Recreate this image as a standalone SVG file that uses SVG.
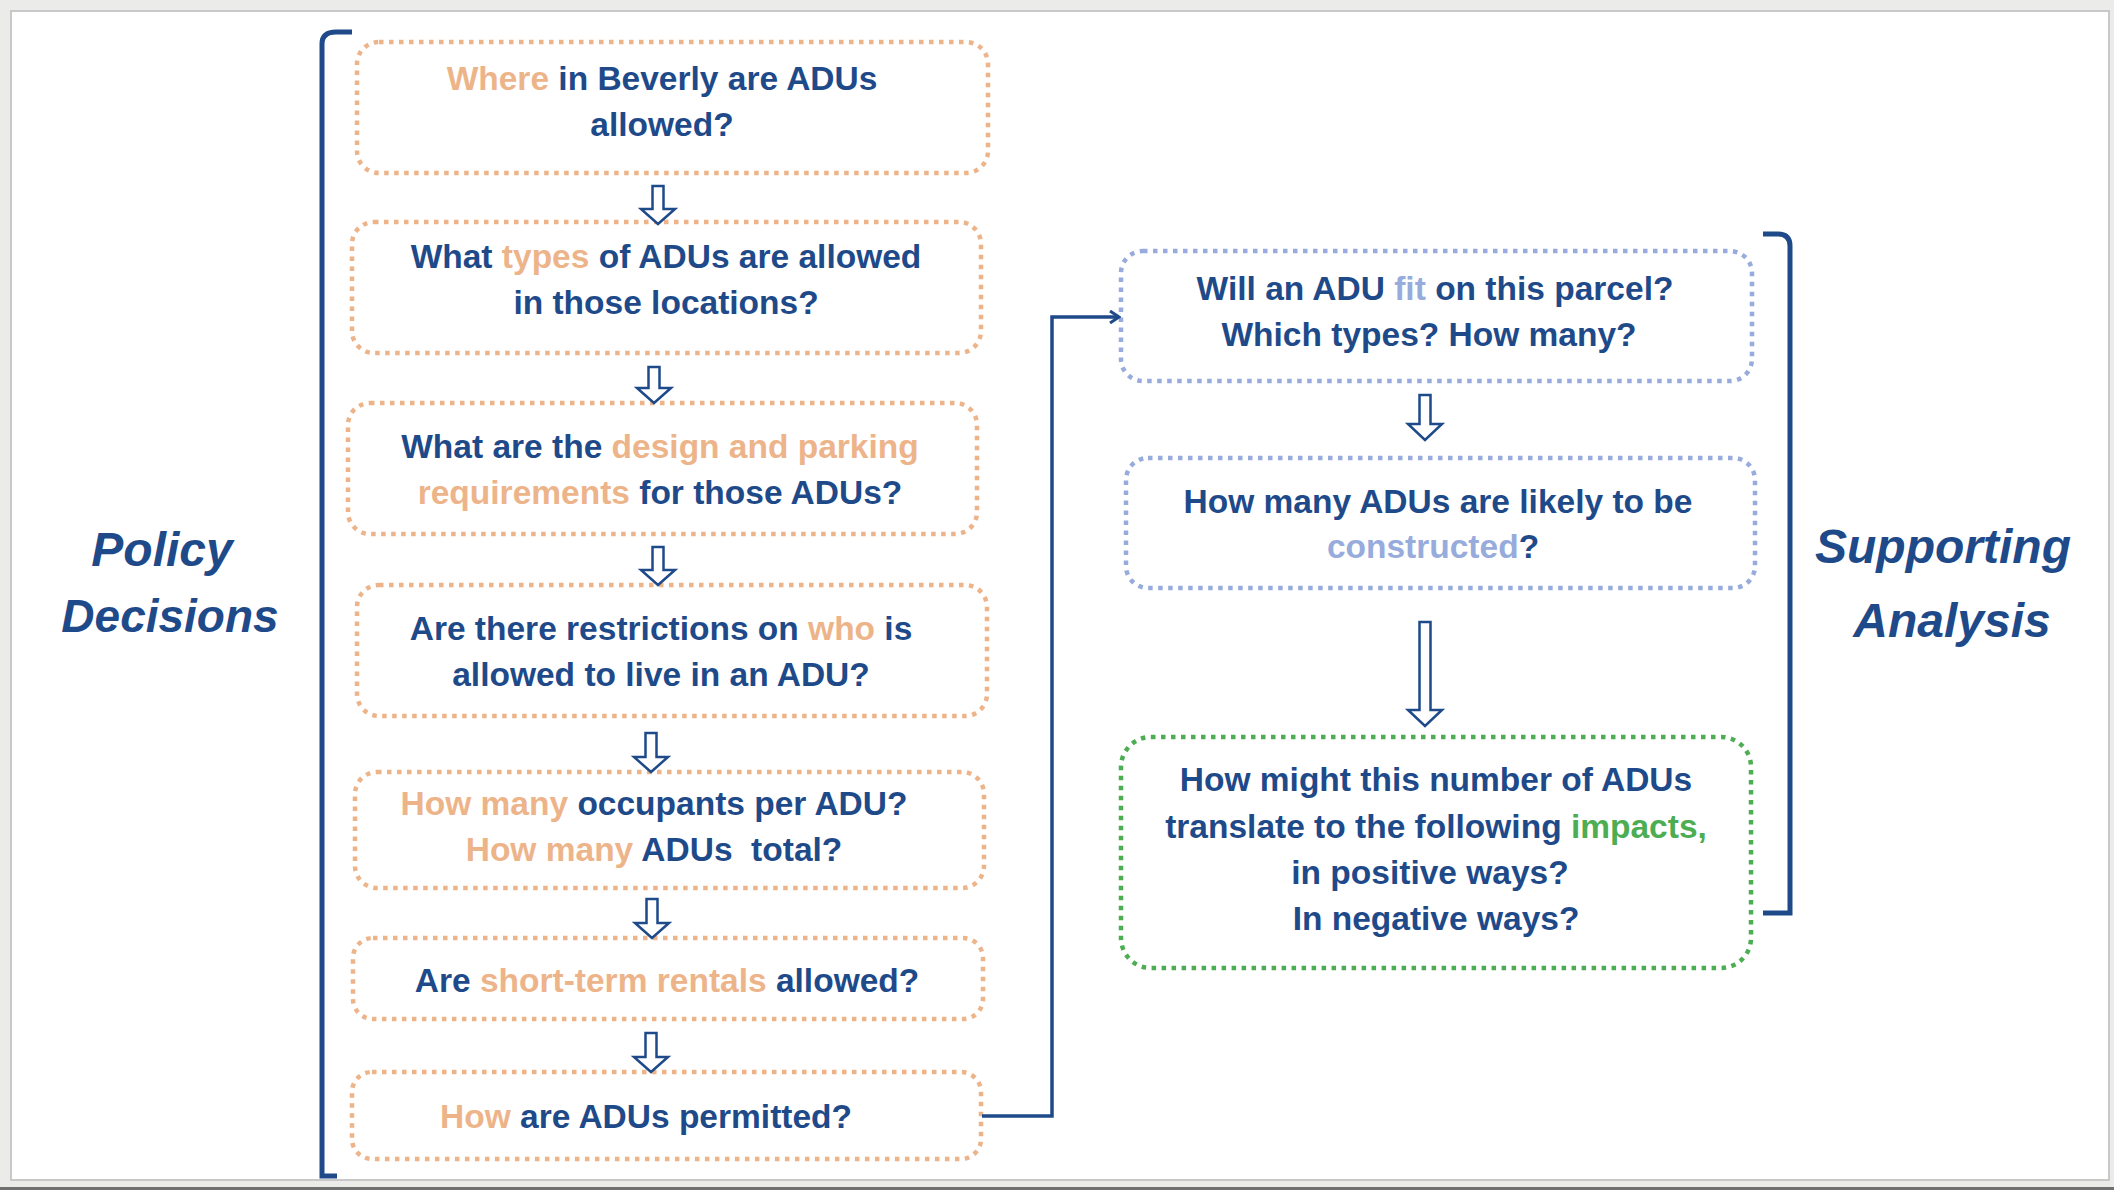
<svg xmlns="http://www.w3.org/2000/svg" width="2114" height="1190" viewBox="0 0 2114 1190">
<style>
.box{fill:none;stroke-width:4.5;stroke-dasharray:4.5 5.5}
.or{stroke:#EDB48A}
.lb{stroke:#97ACDC}
.gr{stroke:#4CAD52}
.t{font-family:"Liberation Sans",Arial,sans-serif;font-weight:bold;font-size:33.5px;fill:#1F4A8A;text-anchor:middle}
.o{fill:#EDB48A}
.l{fill:#97ACDC}
.g{fill:#4CAD52}
.side{font-family:"Liberation Sans",Arial,sans-serif;font-weight:bold;font-style:italic;font-size:48px;fill:#1F4A8A;text-anchor:middle}
.arr{fill:#fff;stroke:#1F4A8A;stroke-width:2.5;stroke-linejoin:miter}
.br{fill:none;stroke:#1F4A8A;stroke-width:5}
.conn{fill:none;stroke:#1F4A8A;stroke-width:3.5}
</style>
<defs>
<marker id="ah" markerWidth="14" markerHeight="14" refX="12" refY="7" orient="auto" markerUnits="userSpaceOnUse">
<path d="M3,1 L12,7 L3,13" fill="none" stroke="#1F4A8A" stroke-width="3"/>
</marker>
</defs>
<rect x="0" y="0" width="2114" height="1190" fill="#EBEBEA"/>
<rect x="11" y="11" width="2098" height="1169" fill="#fff" stroke="#C8C8C8" stroke-width="2"/>
<rect x="0" y="1187" width="2114" height="3" fill="#707070"/>

<g id="brackets">
<path class="br" d="M352,32 H336 Q322,32 322,44 V1176 H337"/>
<path class="br" d="M1763,234 H1778 Q1790,234 1790,246 V913 H1763"/>
</g>

<g id="label-policy">
<text class="side" x="162" y="566">Policy</text>
<text class="side" x="170" y="632" style="font-size:46px">Decisions</text>
</g>
<g id="label-supporting">
<text class="side" x="1943" y="563">Supporting</text>
<text class="side" x="1952" y="637">Analysis</text>
</g>

<g id="n1">
<rect class="box or" x="357" y="42" width="631" height="131" rx="22"/>
<text class="t" x="662" y="90"><tspan class="o">Where</tspan> in Beverly are ADUs</text>
<text class="t" x="662" y="136">allowed?</text>
</g>
<g id="n2">
<rect class="box or" x="352" y="222" width="629" height="131" rx="22"/>
<text class="t" x="666" y="268">What <tspan class="o">types</tspan> of ADUs are allowed</text>
<text class="t" x="666" y="314">in those locations?</text>
</g>
<g id="n3">
<rect class="box or" x="348" y="403" width="629" height="131" rx="22"/>
<text class="t" x="660" y="458">What are the <tspan class="o">design and parking</tspan></text>
<text class="t" x="660" y="504"><tspan class="o">requirements</tspan> for those ADUs?</text>
</g>
<g id="n4">
<rect class="box or" x="357" y="585" width="630" height="131" rx="22"/>
<text class="t" x="661" y="640">Are there restrictions on <tspan class="o">who</tspan> is</text>
<text class="t" x="661" y="686">allowed to live in an ADU?</text>
</g>
<g id="n5">
<rect class="box or" x="355" y="772" width="629" height="116" rx="22"/>
<text class="t" x="654" y="815"><tspan class="o">How many</tspan> occupants per ADU?</text>
<text class="t" x="654" y="861" xml:space="preserve"><tspan class="o">How many</tspan> ADUs  total?</text>
</g>
<g id="n6">
<rect class="box or" x="353" y="938" width="630" height="81" rx="20"/>
<text class="t" x="667" y="992">Are <tspan class="o">short-term rentals</tspan> allowed?</text>
</g>
<g id="n7">
<rect class="box or" x="352" y="1072" width="629" height="87" rx="20"/>
<text class="t" x="646" y="1128"><tspan class="o">How</tspan> are ADUs permitted?</text>
</g>

<g id="r1">
<rect class="box lb" x="1121" y="251" width="631" height="130" rx="22"/>
<text class="t" x="1435" y="300">Will an ADU <tspan class="l">fit</tspan> on this parcel?</text>
<text class="t" x="1429" y="346">Which types? How many?</text>
</g>
<g id="r2">
<rect class="box lb" x="1126" y="458" width="629" height="130" rx="22"/>
<text class="t" x="1438" y="513">How many ADUs are likely to be</text>
<text class="t" x="1433" y="558"><tspan class="l">constructed</tspan>?</text>
</g>
<g id="r3">
<rect class="box gr" x="1121" y="737" width="630" height="231" rx="30"/>
<text class="t" x="1436" y="791">How might this number of ADUs</text>
<text class="t" x="1436" y="838">translate to the following <tspan class="g">impacts,</tspan></text>
<text class="t" x="1430" y="884">in positive ways?</text>
<text class="t" x="1436" y="930">In negative ways?</text>
</g>

<g id="connectors">
<path class="arr" d="M652.5,186 H663.5 V209 H675 L658,224 L641,209 H652.5 Z"/>
<path class="arr" d="M648.5,367 H659.5 V388 H671 L654,403 L637,388 H648.5 Z"/>
<path class="arr" d="M652.5,547 H663.5 V570 H675 L658,585 L641,570 H652.5 Z"/>
<path class="arr" d="M645.5,733 H656.5 V757 H668 L651,772 L634,757 H645.5 Z"/>
<path class="arr" d="M646.5,899 H657.5 V923 H669 L652,938 L635,923 H646.5 Z"/>
<path class="arr" d="M645.5,1033 H656.5 V1057 H668 L651,1072 L634,1057 H645.5 Z"/>
<path class="arr" d="M1419.5,395 H1430.5 V424 H1442 L1425,440 L1408,424 H1419.5 Z"/>
<path class="arr" d="M1419.5,622 H1430.5 V710 H1442 L1425,726 L1408,710 H1419.5 Z"/>
<path class="conn" d="M982,1116 H1052 V317 H1119" marker-end="url(#ah)"/>
</g>
</svg>
